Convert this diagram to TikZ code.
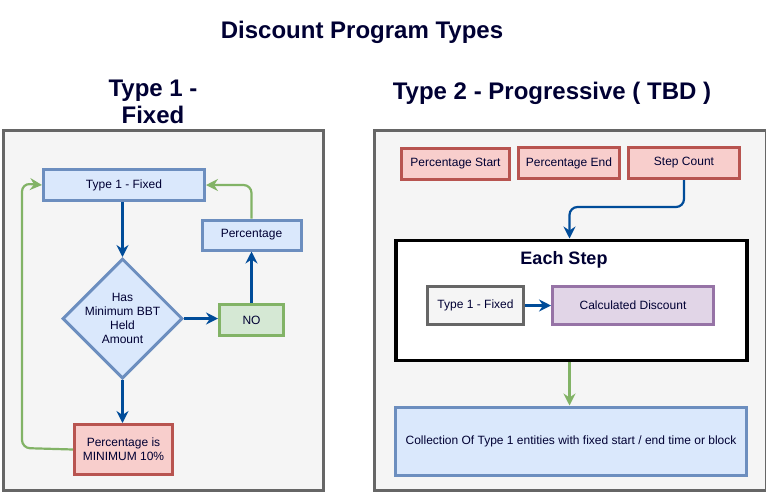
\documentclass[tikz,border=0pt]{standalone}
\usepackage{fontspec}
\setmainfont{Liberation Sans}
\usetikzlibrary{shapes.geometric,arrows.meta}
\definecolor{txt}{HTML}{000033}
\definecolor{panelfill}{HTML}{F5F5F5}
\definecolor{panelline}{HTML}{666666}
\definecolor{bluefill}{HTML}{DAE8FC}
\definecolor{blueline}{HTML}{6C8EBF}
\definecolor{greenfill}{HTML}{D5E8D4}
\definecolor{greenline}{HTML}{82B366}
\definecolor{redfill}{HTML}{F8CECC}
\definecolor{redline}{HTML}{B85450}
\definecolor{purplefill}{HTML}{E1D5E7}
\definecolor{purpleline}{HTML}{9673A6}
\definecolor{arrowblue}{HTML}{004C99}
\tikzset{
  x=1pt, y=-1pt,
  smalltext/.style={font=\fontsize{12}{14}\selectfont, text=txt, align=center},
  box/.style={smalltext, draw, line width=3pt, inner sep=0pt, anchor=north west},
  bluebox/.style={box, fill=bluefill, draw=blueline},
  greenbox/.style={box, fill=greenfill, draw=greenline},
  redbox/.style={box, fill=redfill, draw=redline},
  purplebox/.style={box, fill=purplefill, draw=purpleline},
  graybox/.style={box, fill=panelfill, draw=panelline},
  panel/.style={draw=panelline, fill=panelfill, line width=3pt, inner sep=0pt, anchor=north west},
  title/.style={font=\bfseries\fontsize{24}{27}\selectfont, text=txt, anchor=base},
  bluearrow/.style={draw=arrowblue, line width=2.2pt, -{Stealth[length=12pt,width=12pt,inset=4pt]}, rounded corners=8pt},
  greenarrow/.style={draw=greenline, line width=2.2pt, -{Stealth[length=12pt,width=12pt,inset=4pt]}, rounded corners=8pt},
}
\begin{document}
\begin{tikzpicture}
\useasboundingbox (0,0) rectangle (766,491);
% titles
\node[title] (maintitle) at (362,38.5) {Discount Program Types};
\node[title] (t1title) at (153,96.5) {Type 1 -};
\node[title] (t1title2) at (153,123) {Fixed};
\node[title] (t2title) at (552,99) {Type 2 - Progressive ( TBD )};
% panels
\node[panel, minimum width=320, minimum height=360] (p1) at (2,129) {};
\node[panel, minimum width=392, minimum height=360] (p2) at (373,129) {};
% left flow
\node[bluebox, minimum width=161, minimum height=31] (t1) at (42,168) {Type 1 - Fixed};
\node[bluebox, minimum width=99, minimum height=30] (pct) at (200.5,218.5) {Percentage};
\node[diamond, draw=blueline, fill=bluefill, line width=3pt, minimum width=120, minimum height=120, inner sep=0pt] (dia) at (122.5,318.5) {};
\node[smalltext] (diatext) at (dia.center) {Has\\Minimum BBT\\Held\\Amount};
\node[greenbox, minimum width=64, minimum height=31] (no) at (218,303) {NO};
\node[redbox, minimum width=98, minimum height=50] (min) at (73,423) {Percentage is\\MINIMUM 10\%};
\draw[bluearrow] (t1.south -| dia.north) -- (dia.north);
\draw[bluearrow] (dia.south) -- (min.north -| dia.south);
\draw[bluearrow] (dia.east) -- (dia.east -| no.west);
\draw[bluearrow] (no.north) -- (no.north |- pct.south);
\coordinate (ltop) at (22,183.5);
\coordinate (lbot) at (22,448);
\draw[greenarrow] (no.north |- pct.north) -- (no.north |- t1.east) -- (t1.east);
\draw[greenarrow] (min.west) -- (lbot) -- (ltop) -- (t1.west);
% right flow
\node[redbox, minimum width=108, minimum height=31] (ps) at (400,147) {Percentage Start};
\node[redbox, minimum width=101, minimum height=31] (pe) at (517,146) {Percentage End};
\node[redbox, minimum width=111, minimum height=31] (sc) at (627,146) {Step Count};
\node[draw=black, fill=white, line width=3.5pt, inner sep=0pt, anchor=north west, minimum width=351, minimum height=120] (each) at (394,238.5) {};
\node[font=\bfseries\fontsize{18}{20}\selectfont, text=txt] (eachtitle) at (564,260) {Each Step};
\node[graybox, minimum width=96, minimum height=38] (t1b) at (426,285) {Type 1 - Fixed};
\node[purplebox, minimum width=161, minimum height=38] (calc) at (551,285) {Calculated Discount};
\node[bluebox, minimum width=351, minimum height=68] (coll) at (394,405.5) {Collection Of Type 1 entities with fixed start / end time or block};
\coordinate (scbend) at (569.5,207);
\draw[bluearrow] (sc.south) -- (sc.south |- scbend) -- (scbend) -- (scbend |- each.north);
\draw[bluearrow] (t1b.east) -- (calc.west);
\draw[greenarrow] (scbend |- each.south) -- (scbend |- coll.north);
\end{tikzpicture}
\end{document}
